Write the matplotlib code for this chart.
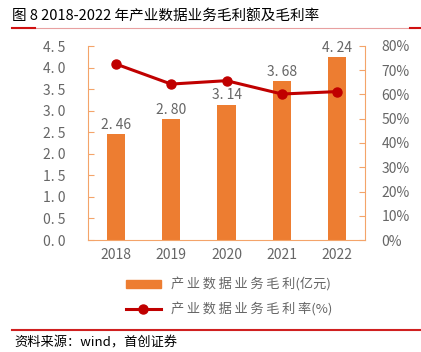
import matplotlib.pyplot as plt
from matplotlib.lines import Line2D
from matplotlib.patches import Patch

plt.rcParams['font.family'] = ['Noto Sans CJK SC', 'DejaVu Sans']

years = ["2018", "2019", "2020", "2021", "2022"]
profit = [2.46, 2.80, 3.14, 3.68, 4.24]          # 亿元
margin = [72.6, 64.3, 65.7, 60.2, 61.2]          # %

bar_color = "#ED7D31"
line_color = "#C00000"
spine_color = "#F4A46A"
text_gray = "#666666"

fig = plt.figure(figsize=(4.21, 3.52), dpi=100)
ax = fig.add_axes([88 / 421, 1 - 240 / 352, 277 / 421, 194 / 352])
ax2 = ax.twinx()

x = list(range(len(years)))
ax.bar(x, profit, width=0.33, color=bar_color, zorder=2)
for xi, v in zip(x, profit):
    ax.text(xi, v + 0.05, f"{v:.2f}".replace(".", ". "), ha="center", va="bottom",
            fontsize=10, color=text_gray)

ax2.plot(x, margin, color=line_color, lw=2.2, marker="o", ms=6.5, zorder=3)

ax.set_xlim(-0.5, 4.5)
ax.set_ylim(0, 4.5)
ax2.set_ylim(0, 80)

lt = [i * 0.5 for i in range(10)]
ax.set_yticks(lt)
ax.set_yticklabels([f"{t:.1f}".replace(".", ". ") for t in lt])
ax2.set_yticks(range(0, 81, 10))
ax2.set_yticklabels([f"{t}%" for t in range(0, 81, 10)])
ax.set_xticks(x)
ax.set_xticklabels(years)

for a in (ax, ax2):
    for s in a.spines.values():
        s.set_visible(False)
    a.tick_params(colors=text_gray, labelsize=10)
ax.spines["left"].set_visible(True)
ax.spines["bottom"].set_visible(True)
ax2.spines["right"].set_visible(True)
ax.spines["left"].set_color(spine_color)
ax.spines["bottom"].set_color(spine_color)
ax2.spines["right"].set_color(spine_color)
ax.tick_params(axis="y", direction="in", length=4, color=spine_color, pad=16)
ax.tick_params(axis="x", length=0, pad=6)
ax2.tick_params(axis="y", direction="in", length=4, color=spine_color, pad=12)


def spaced(s):
    return "\u2009".join(s)


handles = [Patch(color=bar_color), Line2D([], [], color=line_color, lw=2.2, marker="o", ms=6.5)]
labels = [spaced("产业数据业务毛利") + "(亿元)", spaced("产业数据业务毛利率") + "(%)"]
fig.legend(handles, labels, loc="center", bbox_to_anchor=(0.545, 1 - 297 / 352),
           ncol=1, frameon=False, fontsize=9.5, labelcolor=text_gray,
           handlelength=2.6, handleheight=0.6, labelspacing=0.8)

# title and decorations
fig.text(12 / 421, 1 - 16 / 352, "图 8 2018-2022 年产业数据业务毛利额及毛利率",
         fontsize=10.5, color="black", va="center", ha="left")
fig.add_artist(Line2D([12 / 421, 415 / 421], [1 - 28 / 352] * 2, color="#E8A0A0", lw=0.8))
fig.add_artist(Line2D([12 / 421, 35 / 421], [1 - 28 / 352] * 2, color="#D01010", lw=1.5))
fig.add_artist(Line2D([410 / 421, 421 / 421], [1 - 28 / 352] * 2, color="#D01010", lw=1.5))
fig.add_artist(Line2D([12 / 421, 421 / 421], [1 - 330 / 352] * 2, color="#D02020", lw=1.5))
fig.text(14 / 421, 1 - 343 / 352, "资料来源：wind，首创证券", fontsize=9.5, style="italic",
         color="black", va="center", ha="left")

fig.savefig("out.png", dpi=100)
